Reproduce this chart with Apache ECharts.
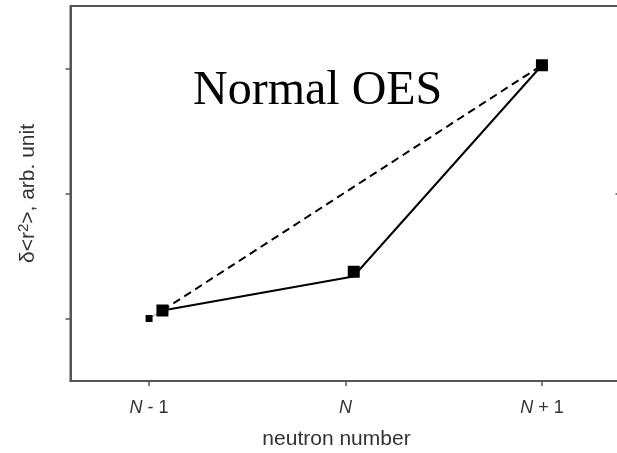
<!DOCTYPE html>
<html>
<head>
<meta charset="utf-8">
<script src="https://cdn.jsdelivr.net/npm/echarts@6/dist/echarts.min.js"></script>
<style>
  html, body { margin: 0; padding: 0; background: #fff; overflow: hidden; width: 617px; height: 453px; }
  #chart { width: 622px; height: 453px; }
</style>
</head>
<body>
<div id="chart"></div>
<script>
// Neutron number offsets relative to N, and their tick labels
const xTicks = [-1, 0, 1];
const xTickLabels = ['{i|N}{n| - 1}', '{i|N}', '{i|N}{n| + 1}'];
const yTicks = [1, 2, 3];

// Isotope shift points (arbitrary units)
const refPoint = [[-1, 1.0]];
const measuredX = [-0.932, 0.042, 1.0];
const measuredY = [1.064, 1.374, 3.026];
// Solid line vertices (middle vertex sits just below its marker)
const solidX = [-0.932, 0.040, 1.0];
const solidY = [1.064, 1.336, 3.026];
// Straight-line trend between the outer points
const dashedX = [-0.932, 1.0];
const dashedY = [1.064, 3.026];
// Thin connector from the reference point to the first measured point
const connectorX = [-1, -0.932];
const connectorY = [1.0, 1.064];

const zip = (xs, ys) => xs.map((x, i) => [x, ys[i]]);

const axisGrey = '#555';
const textGrey = '#333';

const chart = echarts.init(document.getElementById('chart'), null, { renderer: 'canvas' });

chart.setOption({
  animation: false,
  backgroundColor: '#fff',
  grid: {
    left: 70.5, right: 1.5, top: 6, bottom: 72,
    outerBoundsMode: 'none', containLabel: false,
    show: true, borderColor: axisGrey, borderWidth: 2
  },
  xAxis: {
    type: 'value',
    min: -1.4, max: 1.4,
    axisLine: { show: true, onZero: false, lineStyle: { color: axisGrey, width: 2 } },
    axisTick: { show: true, length: 5, lineStyle: { color: axisGrey, width: 1.5 }, customValues: xTicks },
    axisLabel: {
      customValues: xTicks,
      margin: 18,
      formatter: v => xTickLabels[xTicks.indexOf(Math.round(v))],
      rich: {
        i: { fontFamily: 'Liberation Sans', fontStyle: 'italic', fontSize: 18, color: textGrey },
        n: { fontFamily: 'Liberation Sans', fontSize: 18, color: textGrey }
      }
    },
    splitLine: { show: false },
    name: 'neutron number',
    nameLocation: 'middle',
    nameGap: 48,
    nameTextStyle: { fontFamily: 'Liberation Sans', fontSize: 21, color: textGrey, padding: [0, 18, 0, 0] }
  },
  yAxis: [{
    type: 'value',
    position: 'left',
    min: 0.5, max: 3.5,
    axisLine: { show: true, onZero: false, lineStyle: { color: axisGrey, width: 2 } },
    axisTick: { show: true, length: 5, lineStyle: { color: axisGrey, width: 1.5 }, customValues: yTicks },
    axisLabel: { show: false },
    splitLine: { show: false },
    name: '{a|δ<r}{s|2}{a|>, arb. unit}',
    nameLocation: 'middle',
    nameGap: 30,
    nameRotate: 90,
    nameTextStyle: {
      fontFamily: 'Liberation Sans',
      fontSize: 21,
      color: textGrey,
      rich: {
        a: { fontFamily: 'Liberation Sans', fontSize: 21, color: textGrey, lineHeight: 24 },
        s: { fontFamily: 'Liberation Sans', fontSize: 15, color: textGrey, verticalAlign: 'top', lineHeight: 24 }
      }
    }
  }, {
    type: 'value',
    position: 'right',
    min: 0.5, max: 3.5,
    axisLine: { show: true, onZero: false, lineStyle: { color: axisGrey, width: 2 } },
    axisTick: { show: true, inside: true, length: 5, lineStyle: { color: axisGrey, width: 1.5 }, customValues: [2] },
    axisLabel: { show: false },
    splitLine: { show: false }
  }],
  graphic: [{
    type: 'text',
    left: 193,
    top: 67,
    style: {
      text: 'Normal OES',
      font: '48px "Liberation Serif"',
      fill: '#000'
    }
  }],
  series: [
    {
      type: 'line',
      data: zip(connectorX, connectorY),
      showSymbol: false,
      lineStyle: { color: '#999', width: 1 },
      z: 2
    },
    {
      type: 'line',
      data: zip(dashedX, dashedY),
      showSymbol: false,
      lineStyle: { color: '#000', width: 2, type: [8, 5] },
      z: 3
    },
    {
      type: 'line',
      data: zip(solidX, solidY),
      showSymbol: false,
      lineStyle: { color: '#000', width: 2 },
      z: 3
    },
    {
      type: 'scatter',
      data: refPoint,
      symbol: 'rect',
      symbolSize: 7,
      itemStyle: { color: '#000', opacity: 1 },
      z: 4
    },
    {
      type: 'scatter',
      data: zip(measuredX, measuredY),
      symbol: 'rect',
      symbolSize: 12,
      itemStyle: { color: '#000', opacity: 1 },
      z: 5
    }
  ]
});
</script>
</body>
</html>
